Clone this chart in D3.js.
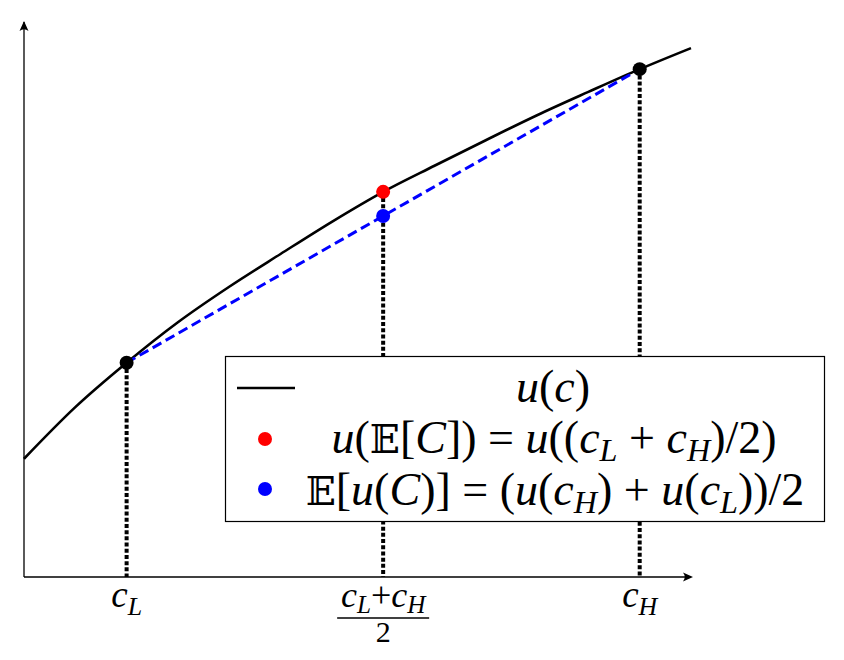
<!DOCTYPE html>
<html>
<head>
<meta charset="utf-8">
<script src="https://cdn.jsdelivr.net/npm/d3@7"></script>
<style>
  html, body { margin: 0; padding: 0; background: #fff; }
  svg { display: block; }
</style>
</head>
<body>
<svg id="chart" width="844" height="660"></svg>
<script>
// ---- data ----
const cValues = [0, 0.5, 1, 1.5, 2, 2.5, 3, 3.5, 4, 4.5, 5, 5.5, 6, 6.5];
const uValues = [2.13, 3.06, 3.86, 4.59, 5.23, 5.82, 6.40, 6.94, 7.41, 7.87, 8.32, 8.74, 9.15, 9.53];
const cL = 1;
const cH = 6;
const cMid = 3.5;
const tickValues = [cL, cMid, cH];

const svg = d3.select("#chart");
const SERIF = '"Liberation Serif"';
const BB = '"DejaVu Serif"';

const x = d3.scaleLinear().domain([0, 6.5]).range([24, 691]);
const y = d3.scaleLinear().domain([0, 10]).range([577, 22]);

const uAt = c => uValues[cValues.indexOf(c)];
const uL = uAt(cL), uH = uAt(cH), uMid = uAt(cMid);
const uAvg = (uL + uH) / 2;

// ---- axes ----
const xAxis = d3.axisBottom(x).tickValues(tickValues).tickSize(0).tickFormat("");
const gx = svg.append("g").attr("transform", `translate(0,${y(0)})`).call(xAxis);
gx.select(".domain").attr("stroke", "#000").attr("stroke-width", 1.3).attr("d", `M${x(0)},0H${x(6.5)}`);

const yAxis = d3.axisLeft(y).tickValues([]).tickSize(0);
const gy = svg.append("g").attr("transform", `translate(${x(0)},0)`).call(yAxis);
gy.select(".domain").attr("stroke", "#000").attr("stroke-width", 1.3).attr("d", `M0,${y(0)}V${y(10)}`);

function arrow(tx, ty, dir) {
  let p;
  if (dir === "up") {
    p = `M${tx},${ty} L${tx-4.5},${ty+10} Q${tx},${ty+6.5} ${tx+4.5},${ty+10} Z`;
  } else {
    p = `M${tx},${ty} L${tx-10},${ty-4.5} Q${tx-6.5},${ty} ${tx-10},${ty+4.5} Z`;
  }
  svg.append("path").attr("d", p).attr("fill", "#000");
}
arrow(x(0), y(10) - 1, "up");
arrow(x(6.5) + 2, y(0), "right");

// ---- curve ----
const line = d3.line().x((d, i) => x(cValues[i])).y(d => y(d)).curve(d3.curveMonotoneX);
svg.append("path").datum(uValues).attr("d", line)
  .attr("fill", "none").attr("stroke", "#000").attr("stroke-width", 2.6);

// ---- chord (blue dashed) ----
svg.append("line")
  .attr("x1", x(cL)).attr("y1", y(uL)).attr("x2", x(cH)).attr("y2", y(uH))
  .attr("stroke", "#0000ff").attr("stroke-width", 3).attr("stroke-dasharray", "10,5");

// ---- dotted verticals ----
const verticals = [[cL, uL], [cMid, uMid], [cH, uH]];
svg.selectAll("line.vert").data(verticals).enter().append("line")
  .attr("class", "vert")
  .attr("x1", d => x(d[0])).attr("x2", d => x(d[0]))
  .attr("y1", d => y(d[1])).attr("y2", y(0))
  .attr("stroke", "#000").attr("stroke-width", 4).attr("stroke-dasharray", "4,2.2");

// ---- points ----
const points = [
  { c: cL, u: uL, color: "#000" },
  { c: cH, u: uH, color: "#000" },
  { c: cMid, u: uMid, color: "#ff0000" },
  { c: cMid, u: uAvg, color: "#0000ff" }
];
svg.selectAll("circle.pt").data(points).enter().append("circle")
  .attr("class", "pt")
  .attr("cx", d => x(d.c)).attr("cy", d => y(d.u)).attr("r", 7)
  .attr("fill", d => d.color);

// ---- math text helper ----
function mathText(g, parts, size, subShift) {
  const sh = (subShift === undefined ? 0.22 : subShift) * size;
  const t = g.append("text").attr("font-size", size)
    .attr("text-anchor", "middle").attr("fill", "#000")
    .style("font-family", SERIF);
  let inSub = false;
  parts.forEach(([s, st]) => {
    const ts = t.append("tspan").text(s).style("font-family", SERIF);
    if (st === "si") {
      ts.attr("font-style", "italic").attr("font-size", size * 0.7);
      if (!inSub) { ts.attr("dy", sh); inSub = true; }
    } else {
      if (inSub) { ts.attr("dy", -sh); inSub = false; }
      if (st === "i") ts.attr("font-style", "italic");
      if (st === "bb") ts.style("font-family", BB).attr("font-size", size * 0.86);
    }
  });
  return t;
}

// ---- tick labels ----
mathText(svg.append("g").attr("transform", `translate(${x(cL)},607)`),
  [["c", "i"], ["L", "si"]], 37);
mathText(svg.append("g").attr("transform", `translate(${x(cH)},607)`),
  [["c", "i"], ["H", "si"]], 37);
const frac = svg.append("g").attr("transform", `translate(${x(cMid)},0)`);
mathText(frac.append("g").attr("transform", "translate(0,607)"),
  [["c", "i"], ["L", "si"], ["+", "r"], ["c", "i"], ["H", "si"]], 36, 0.16);
frac.append("line").attr("x1", -46).attr("x2", 46).attr("y1", 618).attr("y2", 618)
  .attr("stroke", "#000").attr("stroke-width", 1.3);
mathText(frac.append("g").attr("transform", "translate(0,642)"), [["2", "r"]], 30);

// ---- legend ----
const lg = svg.append("g");
lg.append("rect").attr("x", 225.5).attr("y", 356.5).attr("width", 599).attr("height", 165)
  .attr("fill", "#fff").attr("stroke", "#000").attr("stroke-width", 1.2);
lg.append("line").attr("x1", 237).attr("x2", 295).attr("y1", 388).attr("y2", 388)
  .attr("stroke", "#000").attr("stroke-width", 2.6);
lg.append("circle").attr("cx", 265).attr("cy", 439).attr("r", 7).attr("fill", "#ff0000");
lg.append("circle").attr("cx", 265).attr("cy", 489).attr("r", 7).attr("fill", "#0000ff");

const legFont = 46;
mathText(lg.append("g").attr("transform", "translate(553,402)"),
  [["u", "i"], ["(", "r"], ["c", "i"], [")", "r"]], legFont, 0.17);
mathText(lg.append("g").attr("transform", "translate(554,453)"),
  [["u", "i"], ["(", "r"], ["𝔼", "bb"], ["[", "r"], ["C", "i"], ["])", "r"], [" = ", "r"],
   ["u", "i"], ["((", "r"], ["c", "i"], ["L", "si"], [" + ", "r"], ["c", "i"], ["H", "si"], [")/2)", "r"]], legFont, 0.17);
mathText(lg.append("g").attr("transform", "translate(555,505)"),
  [["𝔼", "bb"], ["[", "r"], ["u", "i"], ["(", "r"], ["C", "i"], [")]", "r"], [" = (", "r"],
   ["u", "i"], ["(", "r"], ["c", "i"], ["H", "si"], [")", "r"], [" + ", "r"],
   ["u", "i"], ["(", "r"], ["c", "i"], ["L", "si"], ["))/2", "r"]], legFont, 0.17);
</script>
</body>
</html>
